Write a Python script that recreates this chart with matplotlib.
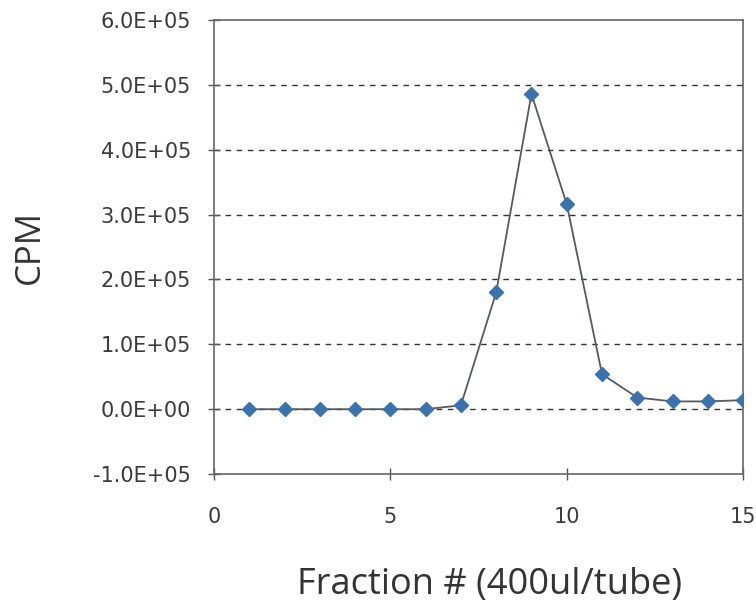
import matplotlib
matplotlib.use("Agg")
import matplotlib.pyplot as plt
from matplotlib.ticker import FuncFormatter

fractions = [1, 2, 3, 4, 5, 6, 7, 8, 9, 10, 11, 12, 13, 14, 15]
cpm = [0, 0, 0, 0, 0, 0, 0.06e5, 1.80e5, 4.86e5, 3.16e5, 0.54e5, 0.18e5, 0.12e5, 0.12e5, 0.14e5]
y_ticks = [-1e5, 0, 1e5, 2e5, 3e5, 4e5, 5e5, 6e5]
grid_levels = [0, 1e5, 2e5, 3e5, 4e5, 5e5]
x_ticks = [0, 5, 10, 15]

plt.rcParams['font.family'] = ['Open Sans', 'DejaVu Sans']

fig = plt.figure(figsize=(7.56, 6.07), dpi=100)
ax = fig.add_axes([0.283, 0.219, 0.700, 0.748])

for g in grid_levels:
    ax.axhline(g, color='#333333', lw=1.0, ls=(0, (4, 4)), zorder=1)

ax.plot(fractions, cpm, color='#555a60', lw=1.3, zorder=2)
ax.plot(fractions, cpm, ls='none', marker='D', ms=7, color='#3a72ad', zorder=3)

ax.set_xlim(0, 15)
ax.set_ylim(-1e5, 6e5)
ax.set_xticks(x_ticks)
ax.set_yticks(y_ticks)
ax.yaxis.set_major_formatter(FuncFormatter(lambda v, p: f"{v:.1E}"))
ax.tick_params(axis='both', labelsize=15, labelcolor='#3a3a3a', color='#555555', length=9, width=1, direction='inout')
ax.tick_params(axis='y', pad=12)
ax.tick_params(axis='x', pad=19)
for lbl in ax.get_xticklabels() + ax.get_yticklabels():
    lbl.set_fontfamily('DejaVu Sans')
for s in ax.spines.values():
    s.set_color('#666666')
    s.set_linewidth(1.2)

ax.set_ylabel('CPM', fontsize=25, color='#333333')
ax.set_xlabel('Fraction # (400ul/tube)', fontsize=26, color='#333333')
ax.yaxis.set_label_coords(-0.315, 0.5)
ax.xaxis.set_label_coords(0.52, -0.205)

fig.savefig('out.png', dpi=100)
